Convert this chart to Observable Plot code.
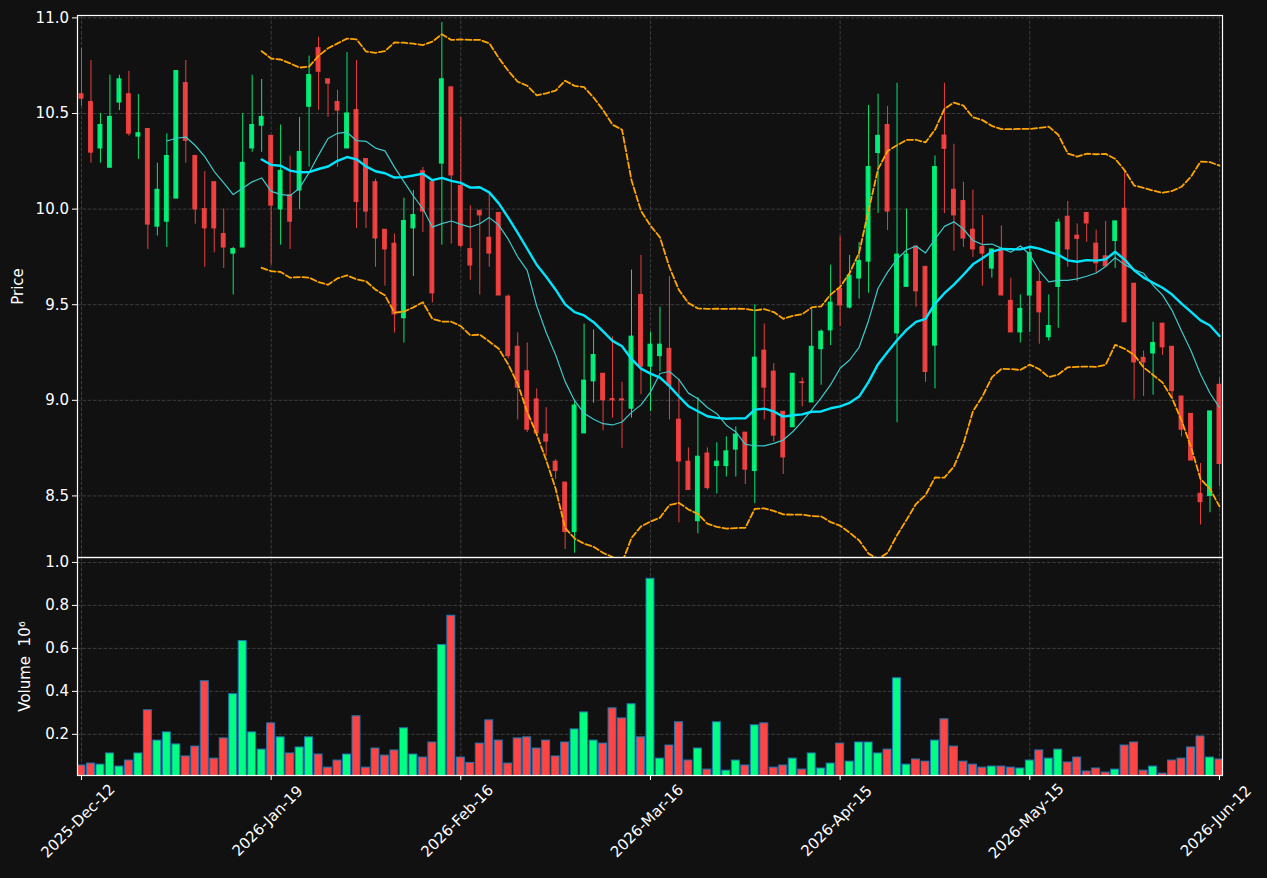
<!DOCTYPE html>
<html><head><meta charset="utf-8">
<script src="https://cdn.jsdelivr.net/npm/d3@7"></script>
<script src="https://cdn.jsdelivr.net/npm/@observablehq/plot@0.6"></script>
<style>
html,body{margin:0;padding:0;background:#111111;}
#chart{width:1267px;height:878px;background:#111111;}
#chart svg{display:block;overflow:visible;}
</style></head><body><div id="chart"></div>
<script>
const openP = [10.601,10.560,10.317,10.216,10.557,10.601,10.379,10.419,9.908,9.934,
10.055,10.659,10.278,10.000,10.141,9.870,9.767,9.799,10.317,10.436,
10.383,9.998,10.073,10.097,10.535,10.842,10.679,10.560,10.317,10.518,
10.262,10.141,9.892,9.819,9.429,9.899,10.198,10.141,10.238,10.637,
10.121,9.791,9.991,9.850,9.980,9.542,9.280,9.152,9.005,8.821,
8.679,8.570,8.311,8.827,9.099,9.139,9.007,9.005,8.956,9.551,
9.176,9.231,9.269,8.899,8.679,8.368,8.722,8.656,8.656,8.742,
8.831,8.630,9.260,9.150,8.940,8.859,9.094,8.989,9.267,9.366,
9.582,9.485,9.637,9.725,10.293,10.440,9.350,9.593,9.804,9.698,
9.286,10.385,10.101,10.042,9.892,9.802,9.689,9.789,9.520,9.355,
9.548,9.619,9.330,9.593,9.960,9.861,9.980,9.819,9.753,9.833,
10.002,9.610,9.222,9.245,9.401,9.280,9.020,8.929,8.511,8.500,
9.081];
const highP = [10.839,10.777,10.500,10.700,10.700,10.720,10.599,10.419,10.240,10.394,
10.722,10.777,10.278,10.196,10.141,10.000,9.800,10.500,10.700,10.678,
10.383,10.440,10.277,10.480,10.800,10.899,10.679,10.621,10.819,10.777,
10.262,10.156,9.892,9.870,10.057,10.097,10.218,10.141,10.976,10.637,
10.480,10.018,9.991,10.088,9.980,9.551,9.353,9.300,9.060,8.962,
8.690,8.570,9.002,9.399,9.368,9.139,9.332,9.094,9.681,9.758,
9.357,9.487,9.648,9.112,8.751,9.015,8.751,8.778,8.809,8.861,
8.831,9.500,9.399,9.192,8.940,9.139,9.117,9.478,9.368,9.707,
9.859,9.758,9.826,10.542,10.601,10.537,10.658,10.000,9.804,9.698,
10.278,10.658,10.339,10.141,10.099,9.967,9.789,9.912,9.639,9.551,
9.804,9.674,9.551,9.947,10.040,9.923,9.980,9.890,9.936,9.936,
10.201,9.610,9.258,9.408,9.401,9.280,9.020,8.929,8.670,8.942,
9.117];
const lowP = [10.537,10.240,10.240,10.216,10.515,10.381,10.260,9.789,9.859,9.800,
10.055,10.240,9.921,9.696,9.771,9.690,9.551,9.799,10.297,10.297,
9.707,9.811,9.789,9.998,10.220,10.516,10.480,10.218,10.317,9.899,
9.899,9.696,9.597,9.352,9.300,9.648,9.877,9.509,9.811,9.817,
9.797,9.628,9.551,9.696,9.548,9.216,8.897,8.831,8.809,8.709,
8.586,8.220,8.200,8.827,8.985,8.841,8.907,8.749,8.907,9.029,
8.941,9.148,8.897,8.359,8.531,8.302,8.531,8.510,8.599,8.599,
8.559,8.460,8.897,8.782,8.612,8.859,8.965,8.989,9.079,9.286,
9.386,9.478,9.529,9.560,9.978,9.888,8.883,9.593,9.487,9.094,
9.060,9.976,9.780,9.799,9.747,9.597,9.639,9.548,9.355,9.300,
9.355,9.293,9.310,9.377,9.696,9.619,9.826,9.661,9.701,9.689,
9.408,9.002,9.020,9.027,9.235,9.011,8.809,8.685,8.348,8.412,
8.548];
const closeP = [10.577,10.295,10.440,10.482,10.679,10.394,10.397,9.919,10.101,10.278,
10.722,10.357,9.998,9.899,9.899,9.799,9.791,10.242,10.440,10.482,
10.018,10.200,9.934,10.299,10.701,10.718,10.656,10.515,10.500,10.037,
9.987,9.846,9.789,9.449,9.938,9.969,9.987,9.559,10.679,10.176,
9.808,9.705,9.967,9.767,9.548,9.231,9.066,8.846,8.827,8.784,
8.630,8.311,8.973,9.103,9.237,9.000,9.000,9.000,9.333,9.176,
9.291,9.291,9.075,8.680,8.531,8.705,8.541,8.679,8.733,8.821,
8.637,9.223,9.066,8.815,8.701,9.139,9.090,9.280,9.359,9.511,
9.496,9.652,9.729,10.220,10.383,9.987,9.762,9.762,9.570,9.148,
10.220,10.315,9.967,9.846,9.789,9.767,9.789,9.548,9.355,9.478,
9.771,9.460,9.389,9.929,9.789,9.844,9.925,9.716,9.701,9.936,
9.408,9.198,9.198,9.300,9.277,9.048,8.846,8.685,8.467,8.942,
8.667];
const volumeM = [0.055,0.064,0.059,0.111,0.050,0.078,0.111,0.312,0.171,0.209,
0.153,0.097,0.143,0.447,0.087,0.181,0.387,0.634,0.209,0.129,
0.251,0.186,0.111,0.139,0.186,0.106,0.045,0.078,0.106,0.284,
0.045,0.134,0.101,0.125,0.228,0.106,0.092,0.162,0.616,0.752,
0.092,0.067,0.157,0.265,0.171,0.064,0.181,0.186,0.134,0.171,
0.097,0.162,0.223,0.302,0.171,0.157,0.321,0.274,0.340,0.186,
0.924,0.087,0.148,0.256,0.078,0.134,0.036,0.256,0.031,0.078,
0.055,0.242,0.251,0.045,0.055,0.087,0.036,0.111,0.041,0.064,
0.157,0.073,0.162,0.162,0.111,0.129,0.461,0.059,0.083,0.073,
0.171,0.270,0.143,0.073,0.059,0.045,0.050,0.050,0.045,0.041,
0.078,0.125,0.087,0.129,0.069,0.092,0.027,0.041,0.022,0.036,
0.148,0.162,0.031,0.050,0.017,0.078,0.087,0.139,0.190,0.092,
0.083];
const tickIndex = [0,20,40,60,80,100,120];
const tickLabels = ["2025-Dec-12","2026-Jan-19","2026-Feb-16","2026-Mar-16","2026-Apr-15","2026-May-15","2026-Jun-12"];
const priceTicks = [8.5,9.0,9.5,10.0,10.5,11.0];
const volumeTicks = [0.2,0.4,0.6,0.8,1.0];

const rows = closeP.map((c, i) => ({i, open: openP[i], high: highP[i], low: lowP[i], close: c, volume: volumeM[i], up: c >= openP[i]}));
const ticks = tickIndex.map((i, k) => ({i, label: tickLabels[k]}));

const UP = "#00ff80", DOWN = "#ff4444";
const GRID = "#3c3c3c";
const xDomain = [-0.42, 120.32];
const baseStyle = {background: "#111111", color: "white", fontFamily: "DejaVu Sans", fontSize: "15px", overflow: "visible"};

const meanReduce = k => v => (v.length < k ? NaN : d3.mean(v));
const bandReduce = sign => v => {
  if (v.length < 20) return NaN;
  const m = d3.mean(v);
  const sd = Math.sqrt(d3.mean(v, x => (x - m) ** 2));
  return m + sign * 2 * sd;
};

const priceChart = Plot.plot({
  width: 1267, height: 557,
  marginTop: 15, marginBottom: 0, marginLeft: 77, marginRight: 45,
  style: baseStyle,
  color: {type: "identity"},
  x: {domain: xDomain, axis: null},
  y: {domain: [8.178, 11.0125], ticks: priceTicks, tickFormat: d3.format(".1f"), tickSize: 5, tickPadding: 3.5, label: null},
  marks: [
    Plot.ruleY(priceTicks, {stroke: GRID, strokeWidth: 1, strokeDasharray: "3.7,1.6"}),
    Plot.ruleX(tickIndex, {stroke: GRID, strokeWidth: 1, strokeDasharray: "3.7,1.6"}),
    Plot.ruleX(rows, {x: "i", y1: "low", y2: "high", stroke: d => d.up ? UP : DOWN, strokeOpacity: 0.9, strokeWidth: 1, clip: true}),
    Plot.rect(rows, {x1: d => d.i - 0.26, x2: d => d.i + 0.26, y1: "open", y2: "close", fill: d => d.up ? UP : DOWN, fillOpacity: 0.9, insetTop: -0.5, insetBottom: -0.5, clip: true}),
    Plot.lineY(rows, Plot.windowY({k: 20, anchor: "end", strict: true, reduce: bandReduce(1)}, {x: "i", y: "close", stroke: "#ffa500", strokeWidth: 1.8, strokeDasharray: "6,2.6", clip: true})),
    Plot.lineY(rows, Plot.windowY({k: 20, anchor: "end", strict: true, reduce: bandReduce(-1)}, {x: "i", y: "close", stroke: "#ffa500", strokeWidth: 1.8, strokeDasharray: "6,2.6", clip: true})),
    Plot.lineY(rows, Plot.windowY({k: 10, anchor: "end", strict: true, reduce: meanReduce(10)}, {x: "i", y: "close", stroke: "#3fc9c9", strokeWidth: 1.2, clip: true})),
    Plot.lineY(rows, Plot.windowY({k: 20, anchor: "end", strict: true, reduce: meanReduce(20)}, {x: "i", y: "close", stroke: "#00e5ff", strokeWidth: 2.4, clip: true})),
    Plot.frame({stroke: "white", strokeWidth: 1.2}),
    Plot.text(["Price"], {text: d => d, frameAnchor: "left", dx: -59, rotate: -90, fill: "white", textAnchor: "middle"})
  ]
});

const volumeChart = Plot.plot({
  width: 1267, height: 321,
  marginTop: 0, marginBottom: 103, marginLeft: 77, marginRight: 45,
  style: baseStyle,
  color: {type: "identity"},
  x: {domain: xDomain, ticks: tickIndex, tickFormat: () => "", tickSize: 5, label: null},
  y: {domain: [0.0084, 1.023], ticks: volumeTicks, tickFormat: d3.format(".1f"), tickSize: 5, tickPadding: 3.5, label: null},
  marks: [
    Plot.ruleY(volumeTicks, {stroke: GRID, strokeWidth: 1, strokeDasharray: "3.7,1.6"}),
    Plot.ruleX(tickIndex, {stroke: GRID, strokeWidth: 1, strokeDasharray: "3.7,1.6"}),
    Plot.rect(rows, {x1: d => d.i - 0.42, x2: d => d.i + 0.42, y1: 0, y2: "volume", fill: d => d.up ? UP : DOWN, stroke: "#1f77b4", strokeWidth: 1, clip: true}),
    Plot.frame({stroke: "white", strokeWidth: 1.2}),
    Plot.text(["Volume  10\u2076"], {text: d => d, frameAnchor: "left", dx: -52, rotate: -90, fill: "white", textAnchor: "middle"}),
    Plot.text(ticks, {x: "i", text: "label", frameAnchor: "bottom", dy: 49, rotate: -45, fill: "white", textAnchor: "middle"})
  ]
});

const root = document.getElementById("chart");
root.appendChild(priceChart);
root.appendChild(volumeChart);
</script>
</body></html>
